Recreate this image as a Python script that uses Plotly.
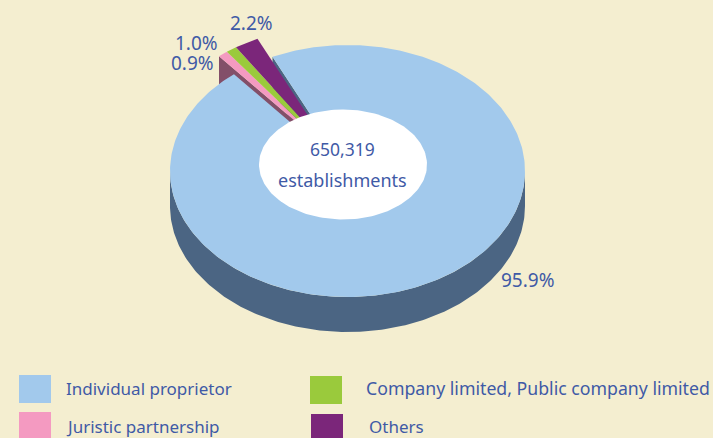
import numpy as np
import plotly.graph_objects as go

# Data
categories = ["Individual proprietor", "Juristic partnership",
              "Company limited, Public company limited", "Others"]
shares = [95.9, 0.9, 1.0, 2.2]
share_labels = ["95.9%", "0.9%", "1.0%", "2.2%"]
center_lines = ["650,319", "establishments"]

# Styles
BG = "#F4EED0"
INK = "#3F5AA6"
colors = ["#A2C9EC", "#F49AC1", "#9ACA3C", "#7B267A"]
SIDE = "#4B6583"
CUT_SIDE = "#834F69"
FONT = "Noto Sans"

# Pie geometry (pixel-space axes)
CX, CY, RX, RY, DEPTH = 347.5, 171, 177.5, 126, 35
START_DEG = -25.0
PULL = (-15, -18)
HOLE = (343, 164.5, 84, 55)


def rim(deg):
    t = np.radians(deg)
    return CX + RX * np.sin(t), CY - RY * np.cos(t)


def wedge(a0, a1, dx=0, dy=0):
    n = max(int(abs(a1 - a0)), 2) + 1
    x, y = rim(np.linspace(a0, a1, n))
    return (np.r_[CX, x, CX] + dx, np.r_[CY, y, CY] + dy)


def cut_wall(a, dx=0, dy=0):
    x, y = rim(a)
    return (np.array([CX, x, x, CX, CX]) + dx,
            np.array([CY, y, y + DEPTH, CY + DEPTH, CY]) + dy)


def area(x, y, color, name):
    return go.Scatter(x=x, y=y, mode="lines", fill="toself", fillcolor=color,
                      line=dict(width=0, color=color), name=name,
                      hoverinfo="name", showlegend=False)


edges = START_DEG + np.r_[0, np.cumsum(shares)] * 3.6
fig = go.Figure()

# Extruded outer side of the big slice
ts = np.linspace(90, 270, 181)
sx, sy = rim(ts)
fig.add_trace(area(np.r_[sx, sx[::-1]], np.r_[sy + DEPTH, sy[::-1]], SIDE, categories[0]))
# Cut faces
fig.add_trace(area(*cut_wall(edges[0]), SIDE, categories[0]))
fig.add_trace(area(*cut_wall(edges[1], *PULL), CUT_SIDE, categories[1]))
# Top of big slice
fig.add_trace(area(*wedge(edges[0], edges[1]), colors[0], categories[0]))
# Pulled slices
for i in (1, 2, 3):
    fig.add_trace(area(*wedge(edges[i], edges[i + 1], *PULL), colors[i], categories[i]))

# Center hole
ht = np.linspace(0, 360, 181)
hx = HOLE[0] + HOLE[2] * np.sin(np.radians(ht))
hy = HOLE[1] - HOLE[3] * np.cos(np.radians(ht))
fig.add_trace(area(hx, hy, "white", "establishments"))

shapes = []
annotations = []


def label(text, x, y, size=17, anchor="left"):
    annotations.append(dict(text=text, x=x, y=y, xref="x", yref="y", showarrow=False,
                            xanchor=anchor, yanchor="middle",
                            font=dict(family=FONT, size=size, color=INK)))


def swatch(x0, y0, x1, y1, color):
    shapes.append(dict(type="rect", xref="x", yref="y", x0=x0, y0=y0, x1=x1, y1=y1,
                       fillcolor=color, line=dict(width=0)))


swatch(19, 375, 51, 403, colors[0])
swatch(310, 376, 342, 404, colors[2])
swatch(19, 412, 51, 438, colors[1])
swatch(311, 414, 343, 438, colors[3])
label(categories[0], 64, 388)
label(categories[2], 363.5, 388, size=17.7)
label(categories[1], 64, 426.5)
label(categories[3], 367, 426.5)

label(share_labels[3], 228, 23, size=19)
label(share_labels[2], 173, 43, size=19)
label(share_labels[1], 169, 63, size=19)
label(share_labels[0], 499, 280, size=19)
label(center_lines[0], 342.5, 148.5, size=17.5, anchor="center")
label(center_lines[1], 342, 179.5, size=18, anchor="center")

fig.update_layout(
    width=713, height=438, autosize=False,
    margin=dict(l=0, r=0, t=0, b=0),
    paper_bgcolor=BG, plot_bgcolor=BG,
    showlegend=False, shapes=shapes, annotations=annotations,
    xaxis=dict(range=[0, 713], visible=False, fixedrange=True),
    yaxis=dict(range=[438, 0], visible=False, fixedrange=True),
)
fig.write_html("out.html", config={"displayModeBar": False},
               post_script="document.body.style.margin='0';document.documentElement.style.overflow='hidden';")
